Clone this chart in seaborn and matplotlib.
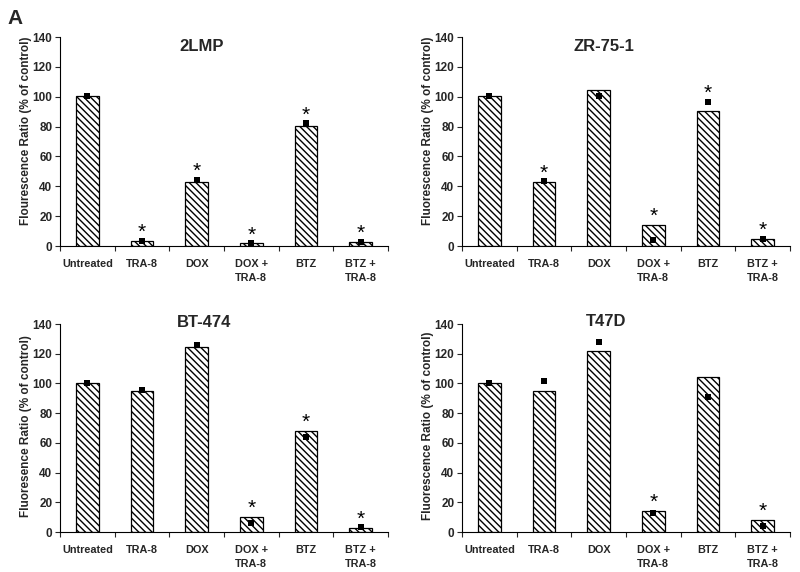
import numpy as np
import pandas as pd
import matplotlib
matplotlib.use("Agg")
import matplotlib.pyplot as plt
import seaborn as sns

# ---------------- data ----------------
categories = ["Untreated", "TRA-8", "DOX", "DOX + TRA-8", "BTZ", "BTZ + TRA-8"]
tick_labels = ["Untreated", "TRA-8", "DOX", "DOX +\nTRA-8", "BTZ", "BTZ +\nTRA-8"]

panel_titles = ["2LMP", "ZR-75-1", "BT-474", "T47D"]
ylabels = [
    "Flourescence Ratio (% of control)",
    "Fluorescence Ratio (% of control)",
    "Fluoresence Ratio (% of control)",
    "Fluorescence Ratio (% of control)",
]

bars_2lmp = [100.2, 3.3, 42.7, 1.8, 80.6, 2.5]
points_2lmp = [100.5, 3.5, 44.5, 1.8, 82.2, 3.0]
sig_2lmp = [False, True, True, True, True, True]

bars_zr751 = [100.2, 43.2, 104.7, 14.1, 90.4, 4.7]
points_zr751 = [100.5, 43.4, 100.4, 4.0, 96.6, 4.9]
sig_zr751 = [False, True, False, True, True, True]

bars_bt474 = [100.3, 94.7, 124.5, 10.1, 68.2, 2.7]
points_bt474 = [100.5, 95.4, 126.1, 6.1, 64.0, 3.1]
sig_bt474 = [False, False, False, True, True, True]

bars_t47d = [100.3, 94.7, 122.0, 14.1, 104.1, 8.3]
points_t47d = [100.5, 101.9, 127.7, 13.0, 90.6, 4.3]
sig_t47d = [False, False, False, True, False, True]

y_ticks = [0, 20, 40, 60, 80, 100, 120, 140]

# ---------------- style ----------------
sns.set_style("ticks")
plt.rcParams["font.family"] = ["Liberation Sans", "DejaVu Sans"]
plt.rcParams["hatch.linewidth"] = 1.0
plt.rcParams["axes.linewidth"] = 0.8

HATCH = chr(92) * 5

fig = plt.figure(figsize=(8, 5.72), dpi=100)

ax_pos = [
    [0.075, 0.5699, 0.41, 0.3654],
    [0.5775, 0.5699, 0.41, 0.3654],
    [0.075, 0.0699, 0.41, 0.3636],
    [0.5775, 0.0699, 0.41, 0.3636],
]
title_xy = [(0.433, 0.955), (0.433, 0.955), (0.44, 1.008), (0.44, 1.01)]
ylabel_y = [0.55, 0.55, 0.51, 0.51]

panels = [
    (bars_2lmp, points_2lmp, sig_2lmp),
    (bars_zr751, points_zr751, sig_zr751),
    (bars_bt474, points_bt474, sig_bt474),
    (bars_t47d, points_t47d, sig_t47d),
]

for k, (bars, points, sig) in enumerate(panels):
    ax = fig.add_axes(ax_pos[k])
    df = pd.DataFrame({"treatment": categories, "bar": bars, "point": points})
    sns.barplot(data=df, x="treatment", y="bar", order=categories, ax=ax,
                width=0.415, color="white", edgecolor="black", linewidth=0.9,
                hatch=HATCH, saturation=1)
    sns.stripplot(data=df, x="treatment", y="point", order=categories, ax=ax,
                  jitter=False, marker="s", size=4.8, color="black",
                  linewidth=0, zorder=5)
    # significance asterisks
    for i, (b, p, s) in enumerate(zip(bars, points, sig)):
        if s:
            ax.annotate("*", xy=(i, max(b, p)), xytext=(0, 2.0),
                        textcoords="offset points", ha="center",
                        va="baseline", fontsize=15, color="black")

    ax.set_xlim(-0.5, len(categories) - 0.5)
    ax.set_ylim(0, 140)
    ax.set_yticks(y_ticks)
    ax.set_yticklabels([str(t) for t in y_ticks], fontsize=8.5,
                       fontweight="bold")
    ax.set_xticks(range(len(categories)))
    ax.set_xticklabels(tick_labels, fontsize=7.8, fontweight="bold",
                       linespacing=1.55)
    ax.set_xticks(np.arange(-0.5, len(categories), 1.0), minor=True)
    ax.tick_params(axis="x", which="major", length=0, pad=9)
    ax.tick_params(axis="x", which="minor", length=3.5, width=0.8,
                   direction="out")
    ax.tick_params(axis="y", which="major", length=3.5, width=0.8,
                   direction="out", pad=2)
    ax.set_xlabel("")
    ax.set_ylabel(ylabels[k], fontsize=8.5, fontweight="bold")
    ax.yaxis.set_label_coords(-0.085, ylabel_y[k])
    sns.despine(ax=ax)
    for sp in ax.spines.values():
        sp.set_color("black")
    tx, ty = title_xy[k]
    ax.text(tx, ty, panel_titles[k], transform=ax.transAxes, ha="center",
            va="center", fontsize=12, fontweight="bold")

fig.text(0.009, 0.985, "A", ha="left", va="top", fontsize=15,
         fontweight="bold")

fig.savefig("out.png", dpi=100, facecolor="white")
